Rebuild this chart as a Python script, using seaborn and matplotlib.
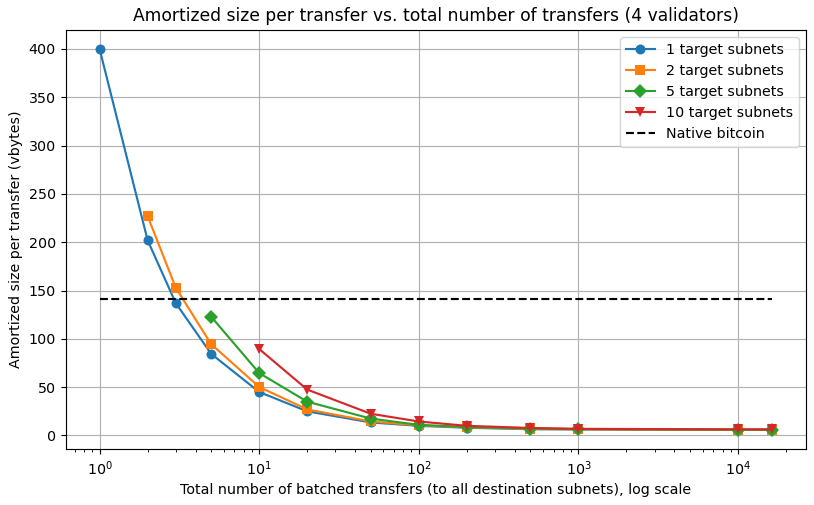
import numpy as np
import pandas as pd
import matplotlib
matplotlib.use("Agg")
import matplotlib.pyplot as plt
import seaborn as sns

transfers = [1, 2, 3, 5, 10, 20, 50, 100, 200, 500, 1000, 10000, 16384]

# amortized size (vbytes) per number of batched transfers
size_1 = [400, 202, 137, 84.5, 45, 25, 13.5, 10, 8, 6.5, 6.3, 5.8, 5.8]
size_2 = [None, 227, 153, 94.5, 50.2, 27, 14.5, 10.5, 8.5, 6.8, 6.4, 5.9, 5.9]
size_5 = [None, None, None, 123, 64.6, 35, 17.5, 11, 8.8, 7.2, 6.6, 6.1, 6.1]
size_10 = [None, None, None, None, 89.5, 47.5, 22.5, 14.5, 10, 7.8, 6.9, 6.3, 6.3]
native_bitcoin = 141

labels = ["1 target subnets", "2 target subnets", "5 target subnets", "10 target subnets"]
markers = ["o", "s", "D", "v"]

rows = []
for lab, vals in zip(labels, [size_1, size_2, size_5, size_10]):
    for x, y in zip(transfers, vals):
        if y is not None:
            rows.append({"transfers": x, "size": y, "series": lab})
df = pd.DataFrame(rows)

dpi = 102.5
fig, ax = plt.subplots(figsize=(814 / dpi, 505 / dpi), dpi=dpi)
palette = sns.color_palette("tab10", 4)
for lab, mk, col in zip(labels, markers, palette):
    sub = df[df["series"] == lab]
    sns.lineplot(data=sub, x="transfers", y="size", ax=ax, marker=mk, color=col,
                 label=lab, markersize=7, markeredgewidth=0, linewidth=1.5)

ax.plot([transfers[0], transfers[-1]], [native_bitcoin, native_bitcoin], "k--",
        label="Native bitcoin", linewidth=1.5)

ax.set_xscale("log")
ax.set_yticks(range(0, 401, 50))
ax.grid(True, which="major", color="#b0b0b0", linewidth=0.8)
ax.set_axisbelow(True)
ax.set_title("Amortized size per transfer vs. total number of transfers (4 validators)")
ax.set_xlabel("Total number of batched transfers (to all destination subnets), log scale")
ax.set_ylabel("Amortized size per transfer (vbytes)")
ax.legend(loc="upper right")

fig.subplots_adjust(left=0.081, right=0.99, top=0.941, bottom=0.111)
fig.savefig("out.png", dpi=dpi)
